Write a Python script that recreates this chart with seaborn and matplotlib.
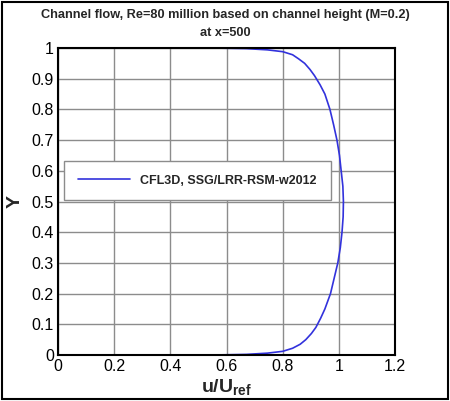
import numpy as np
import pandas as pd
import matplotlib
matplotlib.use('Agg')
import matplotlib.pyplot as plt
import seaborn as sns
from matplotlib.patches import Rectangle

# velocity profile
y_pos = [0.0, 0.0005, 0.002, 0.006, 0.012, 0.022, 0.035, 0.05, 0.07, 0.09, 0.12, 0.15,
         0.2, 0.25, 0.3, 0.35, 0.4, 0.45, 0.5, 0.55, 0.6, 0.65, 0.7, 0.75, 0.8, 0.85,
         0.88, 0.91, 0.93, 0.95, 0.965, 0.978, 0.988, 0.994, 0.998, 0.9995, 1.0]
u_vel = [0.0, 0.58, 0.67, 0.745, 0.80, 0.835, 0.862, 0.882, 0.902, 0.918, 0.935, 0.95,
         0.97, 0.983, 0.996, 1.005, 1.011, 1.015, 1.016, 1.014, 1.008, 1.002, 0.993, 0.981,
         0.968, 0.95, 0.933, 0.913, 0.897, 0.878, 0.856, 0.835, 0.80, 0.745, 0.67, 0.58, 0.0]
series_name = 'CFL3D, SSG/LRR-RSM-w2012'
x_ticks = [0, 0.2, 0.4, 0.6, 0.8, 1, 1.2]
x_tick_labels = ['0', '0.2', '0.4', '0.6', '0.8', '1', '1.2']
y_ticks = [0, 0.1, 0.2, 0.3, 0.4, 0.5, 0.6, 0.7, 0.8, 0.9, 1]
y_tick_labels = ['0', '0.1', '0.2', '0.3', '0.4', '0.5', '0.6', '0.7', '0.8', '0.9', '1']

df = pd.DataFrame({'u': u_vel, 'y': y_pos, 'case': series_name})

sns.set_style('white')
plt.rcParams['font.family'] = ['Liberation Sans', 'DejaVu Sans']
plt.rcParams['mathtext.fontset'] = 'custom'
plt.rcParams['mathtext.bf'] = 'Liberation Sans:bold'
plt.rcParams['mathtext.rm'] = 'Liberation Sans'

fig = plt.figure(figsize=(4.5, 4.01), dpi=100)
ax = fig.add_axes([0.129, 0.1147, 0.749, 0.7656])

sns.lineplot(data=df, x='u', y='y', hue='case', sort=False, estimator=None,
             palette=['#3232dc'], linewidth=1.2, ax=ax)

ax.set_xlim(0, 1.2)
ax.set_ylim(0, 1)
ax.set_xticks(x_ticks)
ax.set_xticklabels(x_tick_labels)
ax.set_yticks(y_ticks)
ax.set_yticklabels(y_tick_labels)
ax.set_xticks(np.arange(0, 1.2001, 0.04), minor=True)
ax.set_yticks(np.arange(0, 1.0001, 0.02), minor=True)
ax.tick_params(which='major', direction='in', length=6, width=1.2, labelsize=11.5, pad=3, colors='black')
ax.tick_params(which='minor', direction='in', length=3, width=0.8, colors='black')
ax.grid(True, which='major', color='#8c8c8c', linewidth=1.0)
ax.set_axisbelow(True)
for s in ax.spines.values():
    s.set_color('black')
    s.set_linewidth(1.5)

ax.set_xlabel(r'$\mathbf{u/U_{ref}}$', fontsize=14, labelpad=2)
ax.set_ylabel('Y', fontsize=14, fontweight='bold', labelpad=6)

fig.text(0.5, 0.962, 'Channel flow, Re=80 million based on channel height (M=0.2)',
         ha='center', va='center', fontsize=9.2, fontweight='bold')
fig.text(0.5, 0.917, 'at x=500', ha='center', va='center', fontsize=9.2, fontweight='bold')

leg = ax.legend(loc='upper left', bbox_to_anchor=(0.018, 0.632), frameon=True, fancybox=False,
                edgecolor='#8c8c8c', framealpha=1, borderpad=1.1, handlelength=4.2,
                handletextpad=0.8, borderaxespad=0,
                prop={'size': 9, 'weight': 'bold'})
leg.get_frame().set_linewidth(1.0)

fig.add_artist(Rectangle((0.004, 0.004), 0.992, 0.992, transform=fig.transFigure,
                         fill=False, edgecolor='black', linewidth=1.5))

fig.savefig('out.png', dpi=100)
